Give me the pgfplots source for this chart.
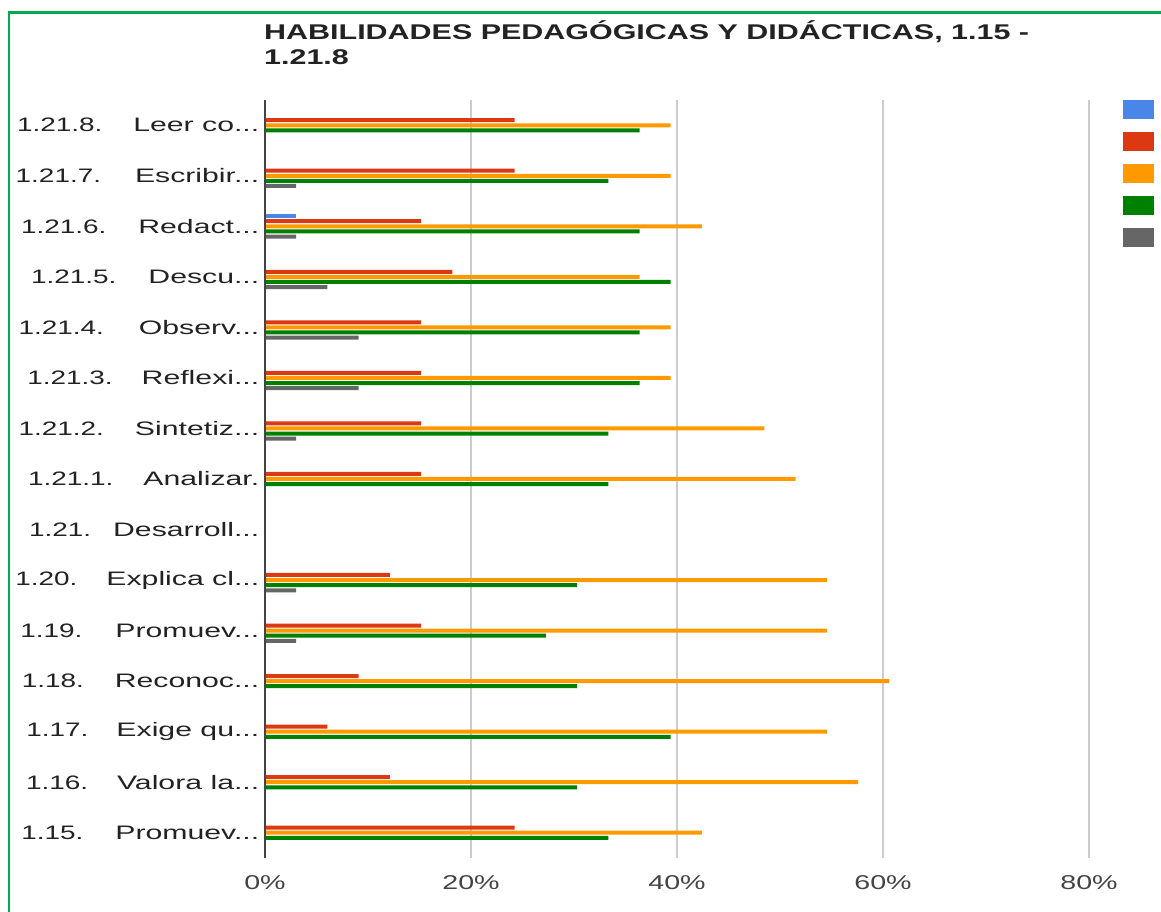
\documentclass[border=0pt]{standalone}
\usepackage{fontspec}
\setmainfont[FakeStretch=1.43]{Liberation Sans}
\newfontfamily\wf[FakeStretch=1.55]{Liberation Sans}
\usepackage{pgfplots}
\pgfplotsset{compat=1.18}
\definecolor{cblue}{HTML}{4A86E8}
\definecolor{cred}{HTML}{DC3912}
\definecolor{corange}{HTML}{FF9900}
\definecolor{cgreen}{HTML}{008000}
\definecolor{cgray}{HTML}{666666}
\definecolor{frame}{HTML}{00AA4F}
\definecolor{gridc}{HTML}{CCCCCC}
\definecolor{axisc}{HTML}{444444}
\definecolor{txt}{HTML}{222222}
\definecolor{ticktxt}{HTML}{444444}
\newcommand{\gap}[1]{\hspace{#1pt}}
\newcommand{\el}{.{}.{}.}
\newcommand{\lab}[3]{#1\gap{#2}{\wf #3}}
\begin{document}
\begin{tikzpicture}
\path[use as bounding box] (0pt,0pt) rectangle (1161pt,911pt);
\draw[frame, line width=2.5pt] (9pt,-20pt) -- (9pt,898.5pt) -- (1200pt,898.5pt);
\begin{axis}[
  at={(265pt,53pt)}, anchor=south west,
  scale only axis, width=824pt, height=758pt,
  xmin=0, xmax=80, ymin=-0.5, ymax=14.5,
  clip=false,
  xbar, bar width=4pt,
  axis line style={draw=none},
  major tick length=0pt,
  xtick={0,20,40,60,80},
  xticklabels={0\%,20\%,40\%,60\%,80\%},
  xmajorgrids, grid style={draw=gridc, line width=2.5pt},
  ytick={0,1,2,3,4,5,6,7,8,9,10,11,12,13,14},
  yticklabels={
    {\lab{1.15.}{32}{Promuev\el}},
    {\lab{1.16.}{29}{Valora la\el}},
    {\lab{1.17.}{28}{Exige qu\el}},
    {\lab{1.18.}{31}{Reconoc\el}},
    {\lab{1.19.}{33}{Promuev\el}},
    {\lab{1.20.}{29}{Explica cl\el}},
    {\lab{1.21.}{22}{Desarroll\el}},
    {\lab{1.21.1.}{30}{Analizar.}},
    {\lab{1.21.2.}{31}{Sintetiz\el}},
    {\lab{1.21.3.}{29}{Reflexi\el}},
    {\lab{1.21.4.}{35}{Observ\el}},
    {\lab{1.21.5.}{32}{Descu\el}},
    {\lab{1.21.6.}{32}{Redact\el}},
    {\lab{1.21.7.}{34}{Escribir\el}},
    {\lab{1.21.8.}{31}{Leer co\el}}},
  yticklabel style={anchor=east, inner sep=0pt, xshift=-5.5pt, text=txt,
    font=\fontsize{19.5pt}{23pt}\selectfont},
  xticklabel style={anchor=center, inner sep=0pt, yshift=-25pt, text=ticktxt,
    font=\fontsize{20pt}{24pt}\selectfont},
  legend style={at={(axis description cs:1.0413,1)}, anchor=north west,
    draw=none, fill=none, inner sep=0pt, row sep=13pt,
    nodes={inner sep=0pt, minimum height=19pt}},
  legend image code/.code={\fill[#1,draw=none] (0pt,-9.5pt) rectangle (31pt,9.5pt);},
]
\addplot[fill=cblue, draw=none, bar shift=10.2pt] coordinates {(3.03,12)};
\addlegendentry{\mbox{}}
\addplot[fill=cred, draw=none, bar shift=5.1pt] coordinates {
  (24.24,0) (12.12,1) (6.06,2) (9.09,3) (15.15,4) (12.12,5)
  (15.15,7) (15.15,8) (15.15,9) (15.15,10) (18.18,11) (15.15,12) (24.24,13) (24.24,14)};
\addlegendentry{\mbox{}}
\addplot[fill=corange, draw=none, bar shift=0pt] coordinates {
  (42.42,0) (57.58,1) (54.55,2) (60.61,3) (54.55,4) (54.55,5)
  (51.52,7) (48.48,8) (39.39,9) (39.39,10) (36.36,11) (42.42,12) (39.39,13) (39.39,14)};
\addlegendentry{\mbox{}}
\addplot[fill=cgreen, draw=none, bar shift=-5.1pt] coordinates {
  (33.33,0) (30.30,1) (39.39,2) (30.30,3) (27.27,4) (30.30,5)
  (33.33,7) (33.33,8) (36.36,9) (36.36,10) (39.39,11) (36.36,12) (33.33,13) (36.36,14)};
\addlegendentry{\mbox{}}
\addplot[fill=cgray, draw=none, bar shift=-10.2pt] coordinates {
  (3.03,4) (3.03,5) (3.03,8) (9.09,9) (9.09,10) (6.06,11) (3.03,12) (3.03,13)};
\addlegendentry{\mbox{}}
\draw[axisc, line width=2.5pt] (axis cs:0,-0.5) -- (axis cs:0,14.5);
\end{axis}
\node[anchor=base west, inner sep=0pt, text=txt, font=\fontsize{21.3pt}{25pt}\selectfont\bfseries] at (264pt,871.7pt) {HABILIDADES PEDAGÓGICAS Y DIDÁCTICAS, 1.15 -};
\node[anchor=base west, inner sep=0pt, text=txt, font=\fontsize{21.3pt}{25pt}\selectfont\bfseries] at (264pt,846pt) {1.21.8};
\end{tikzpicture}
\end{document}
